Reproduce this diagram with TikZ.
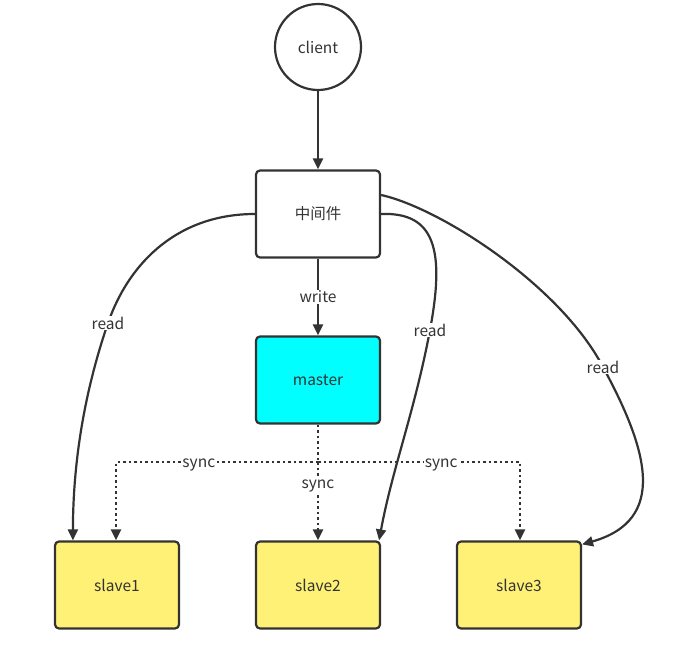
\documentclass[tikz,border=0pt]{standalone}
\usepackage{fontspec}
\setmainfont{Noto Sans CJK SC}
\usetikzlibrary{arrows.meta}
\definecolor{ln}{HTML}{333333}
\definecolor{cyanfill}{HTML}{00FFFF}
\definecolor{yel}{HTML}{FFF176}
\begin{document}
\begin{tikzpicture}[x=1pt,y=-1pt,
  txt/.style={font=\fontsize{15.5}{18}\selectfont,text=ln},
  box/.style={draw=ln,line width=2.2pt,rounded corners=4pt,minimum width=124pt,minimum height=87pt,inner sep=0pt,txt},
  tip/.style={-{Triangle[length=11pt,width=10pt]}},
  conn/.style={draw=ln,line width=2.2pt,tip},
  syncl/.style={draw=ln,line width=2.5pt,dash pattern=on 2.5pt off 3pt},
  lbl/.style={fill=white,inner sep=1pt,txt},
  slbl/.style={lbl,yshift=-3pt}]
\useasboundingbox (0,0) rectangle (688,647);
\node[draw=ln,line width=2.2pt,circle,minimum size=86pt,inner sep=0pt,txt] (client) at (318,47) {client};
\node[box] (mid) at (318,214) {中间件};
\node[box,fill=cyanfill] (master) at (318,380) {master};
\node[box,fill=yel] (s1) at (117,585) {slave1};
\node[box,fill=yel] (s2) at (318,585) {slave2};
\node[box,fill=yel] (s3) at (519,585) {slave3};
\coordinate (j) at (318,462);
% client to mid
\draw[conn] (client) -- (mid);
\draw[conn] (mid) -- node[lbl,pos=0.5] {write} (master);
% sync
\draw[syncl] (master.south) -- (j);
\draw[syncl,tip] (j) -- node[lbl,pos=0.3] {sync} (s2.north);
\draw[syncl,tip] (j) -| node[slbl,pos=0.295] {sync} ([xshift=-1pt]s1.north);
\draw[syncl,tip] (j) -| node[slbl,pos=0.305] {sync} ([xshift=1pt]s3.north);
% read curves
\draw[conn] (mid.west) .. controls (180,214) and (130,260) .. (108,323) node[lbl] {read}
  .. controls (85,390) and (73,460) .. ([xshift=19pt]s1.north west);
\draw[conn] (mid.east) .. controls (435,212) and (445,250) .. (430,330) node[lbl] {read}
  .. controls (415,410) and (392,470) .. ([xshift=-2pt]s2.north east);
\draw[conn] ([yshift=19pt]mid.east) .. controls (440,208) and (560,285) .. (603,367) node[lbl] {read}
  .. controls (648,450) and (668,520) .. ([yshift=-4pt]s3.north east);
\end{tikzpicture}
\end{document}
